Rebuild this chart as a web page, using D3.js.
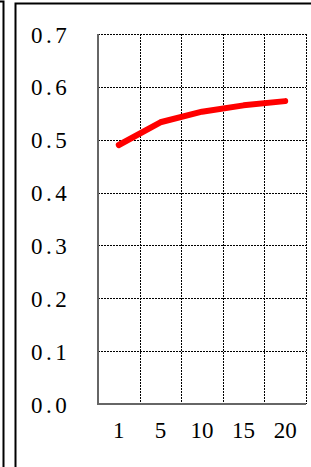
<!DOCTYPE html>
<html><head><meta charset="utf-8">
<script src="https://cdn.jsdelivr.net/npm/d3@7"></script>
<style>html,body{margin:0;padding:0;background:#fff;}
text{font-family:"Liberation Serif","DejaVu Serif","Times New Roman",serif;}</style>
</head><body>
<script>
const categories = ["1", "5", "10", "15", "20"];
const values = [0.490, 0.533, 0.553, 0.565, 0.573];
const yTicks = [0, 0.1, 0.2, 0.3, 0.4, 0.5, 0.6, 0.7];
const yTickLabels = ["0.0", "0.1", "0.2", "0.3", "0.4", "0.5", "0.6", "0.7"];

(function () {
const W = 311, H = 467;
const svg = d3.select("body").append("svg").attr("width", W).attr("height", H);

svg.append("path").attr("d", "M0,1.5H3.5V467").attr("fill", "none").attr("stroke", "#000").attr("stroke-width", 2);
svg.append("path").attr("d", "M15.5,467V3.5H311").attr("fill", "none").attr("stroke", "#000").attr("stroke-width", 2);

const pl = 98, pr = 306, pt = 34, pb = 404;
const x = d3.scaleBand().domain(categories).range([pl, pr]);
const y = d3.scaleLinear().domain([0, 0.7]).range([pb, pt]);

const g = svg.append("g");
g.selectAll(".hg").data(yTicks).enter().append("line")
  .attr("x1", pl).attr("x2", pr)
  .attr("y1", d => Math.round(y(d)) + 0.5).attr("y2", d => Math.round(y(d)) + 0.5)
  .attr("stroke", "#000").attr("stroke-width", 1).attr("stroke-dasharray", "2,1");
const vx = categories.map(c => x(c) + x.bandwidth()).concat([pl]);
g.selectAll(".vg").data(vx).enter().append("line")
  .attr("y1", pt).attr("y2", pb)
  .attr("x1", d => Math.round(d) + 0.5).attr("x2", d => Math.round(d) + 0.5)
  .attr("stroke", "#000").attr("stroke-width", 1).attr("stroke-dasharray", "2,1");

svg.append("path").attr("d", `M${pl},${pt}V${pb}H${pr}`)
  .attr("fill", "none").attr("stroke", "#666").attr("stroke-width", 2);

svg.selectAll(".yl").data(yTicks).enter().append("text")
  .attr("x", 31).attr("y", d => y(d) + 8.5)
  .attr("font-size", 23)
  .attr("letter-spacing", "3.5px").attr("fill", "#000")
  .text((d, i) => yTickLabels[i]);

svg.selectAll(".xl").data(categories).enter().append("text")
  .attr("x", d => x(d) + x.bandwidth() / 2).attr("y", 438)
  .attr("text-anchor", "middle")
  .attr("font-size", 23)
  .attr("fill", "#000").text(d => d);

const line = d3.line().x((d, i) => x(categories[i]) + x.bandwidth() / 2).y(d => y(d));
svg.append("path").datum(values).attr("d", line)
  .attr("fill", "none").attr("stroke", "#ff0000").attr("stroke-width", 6)
  .attr("stroke-linecap", "round").attr("stroke-linejoin", "round");
})();
</script>
</body></html>
